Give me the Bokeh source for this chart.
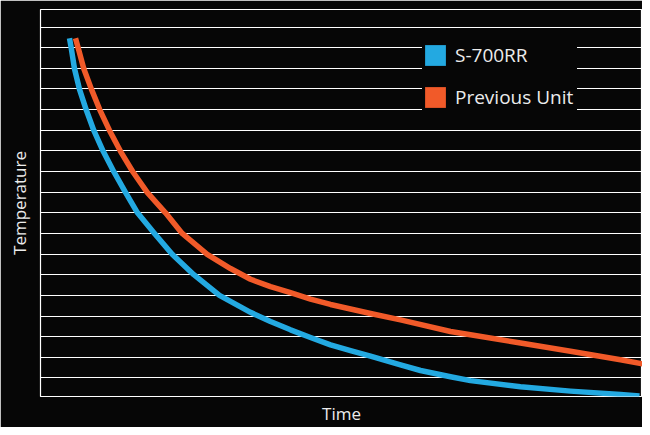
from bokeh.plotting import figure
from bokeh.models import Range1d, FixedTicker, Legend, LegendItem
from bokeh.embed import file_html
from bokeh.resources import INLINE

# ---- data (arbitrary units) ----
series_names = ["S-700RR", "Previous Unit"]
axis_titles = ["Time", "Temperature"]
grid_levels = list(range(1, 19))

time_s700 = [29, 30.7, 34, 39, 45.7, 53.3, 62.7, 73.3, 85, 97, 114, 131.7, 153.3,
             179, 210, 230, 250, 270, 290, 310, 330, 360, 380, 410, 430, 480, 530, 580, 599]
temp_s700 = [17.46, 16.99, 15.98, 14.98, 13.99, 12.99, 11.98, 10.99, 9.99, 9.0, 8.0,
             6.99, 6.0, 5.0, 4.18, 3.73, 3.33, 2.96, 2.60, 2.32, 2.06, 1.63, 1.36, 1.06,
             0.87, 0.57, 0.36, 0.20, 0.12]

time_prev = [35, 37.7, 43.3, 51, 59.3, 69, 80, 92.3, 106.7, 125, 141.7, 166.7, 190,
             210, 230, 250, 270, 290, 310, 330, 360, 410, 430, 480, 530, 580, 610]
temp_prev = [17.46, 16.99, 15.98, 14.98, 13.99, 12.99, 11.98, 10.99, 9.99, 9.0, 8.0,
             6.99, 6.30, 5.78, 5.42, 5.13, 4.82, 4.56, 4.34, 4.12, 3.81, 3.25, 3.09,
             2.69, 2.29, 1.88, 1.61]

BG = "#060606"
BLUE = "#23A9E1"
ORANGE = "#F15A29"
TXT = "#ececec"
FONT = "Open Sans"
NAN = float("nan")

p = figure(width=642, height=427, output_backend="svg", toolbar_location=None,
           x_range=Range1d(0, 602), y_range=Range1d(0.1, 18.85),
           min_border_left=40, min_border_right=0, min_border_top=9, min_border_bottom=28)
p.background_fill_color = BG
p.border_fill_color = BG
p.outline_line_color = "white"
p.outline_line_width = 1.2

for ax, title, standoff in ((p.xaxis, axis_titles[0], 5), (p.yaxis, axis_titles[1], 10)):
    ax.ticker = FixedTicker(ticks=[])
    ax.axis_label = title
    ax.axis_line_color = None
    ax.major_tick_line_color = None
    ax.minor_tick_line_color = None
    ax.major_tick_out = 0
    ax.major_tick_in = 0
    ax.minor_tick_out = 0
    ax.minor_tick_in = 0
    ax.major_label_standoff = 0
    ax.major_label_text_font_size = "0px"
    ax.axis_label_standoff = standoff
    ax.axis_label_text_font = FONT
    ax.axis_label_text_font_size = "17px"
    ax.axis_label_text_font_style = "normal"
    ax.axis_label_text_color = TXT

p.xgrid.visible = False
p.ygrid.ticker = FixedTicker(ticks=grid_levels)
p.ygrid.grid_line_color = "white"
p.ygrid.grid_line_width = 1.2

p.line(time_s700, temp_s700, line_color=BLUE, line_width=5.5, line_cap="butt", line_join="round")
p.line(time_prev, temp_prev, line_color=ORANGE, line_width=5.5, line_cap="butt", line_join="round")

# legend keys (no visible data of their own)
kb = p.quad(left=[NAN], right=[NAN], top=[NAN], bottom=[NAN], fill_color=BLUE, line_color=None)
ko = p.quad(left=[NAN], right=[NAN], top=[NAN], bottom=[NAN], fill_color=ORANGE, line_color=None)

legend = Legend(items=[LegendItem(label=series_names[0], renderers=[kb]),
                       LegendItem(label=series_names[1], renderers=[ko])],
                location=(382, 286), glyph_width=26, glyph_height=26, spacing=16,
                padding=12, label_standoff=7, label_width=122, margin=0,
                label_text_font=FONT, label_text_font_size="19px", label_text_color=TXT,
                background_fill_color=BG, background_fill_alpha=1.0, border_line_color=None)
p.add_layout(legend)

open("out.html", "w").write(file_html(p, INLINE))
